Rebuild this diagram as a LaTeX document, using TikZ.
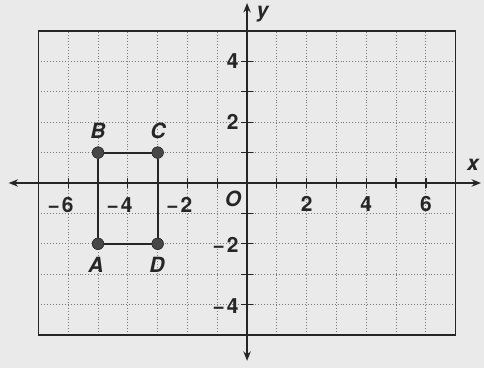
\documentclass[tikz,border=0pt]{standalone}
\usepackage{fontspec}
\setmainfont{TeX Gyre Heros}
\usetikzlibrary{arrows.meta}
\definecolor{ink}{RGB}{38,38,38}
\definecolor{paper}{RGB}{234,234,234}
\definecolor{gridc}{RGB}{120,120,120}
\tikzset{
  lbl/.style={font=\fontsize{20}{23}\selectfont\bfseries, text=ink, inner sep=0pt},
  ilbl/.style={font=\fontsize{20}{23}\selectfont\bfseries\itshape, text=ink, inner sep=0pt},
  axis/.style={ink, line width=1.6pt, {Stealth[length=9pt,width=7pt]}-{Stealth[length=9pt,width=7pt]}},
  pt/.style={circle, fill=ink!85, draw=ink, inner sep=0pt, minimum size=11pt},
  edge/.style={ink, line width=1.8pt}
}
\begin{document}
\begin{tikzpicture}[x=1cm,y=1.02cm]
\useasboundingbox[fill=paper] (-8.29,-6.09) rectangle (7.95,6.02);
% grid
\foreach \i in {-6,...,6} {
  \draw[gridc, line width=0.8pt, dotted] (\i,-5) -- (\i,5);
}
\foreach \j in {-4,...,4} {
  \draw[gridc, line width=0.8pt, dotted] (-7,\j) -- (7,\j);
}
\draw[ink, line width=1.4pt] (-7,-5) rectangle (7,5);
% axes
\coordinate (xl) at (-8.0,0);
\coordinate (xr) at (7.85,0);
\coordinate (yb) at (0,-5.85);
\coordinate (yt) at (0,5.92);
\draw[axis] (xl) -- (xr);
\draw[axis] (yb) -- (yt);
\foreach \i in {-7,...,-1,1,2,...,7} {
  \draw[ink, line width=1.2pt] (\i,-0.15) -- (\i,0.15);
}
\foreach \j in {-5,...,-1,1,2,...,5} {
  \draw[ink, line width=1.2pt] (-0.2,\j) -- (0.2,\j);
}
% tick labels
\node[lbl] (lm6) at (-6.26,-0.72) {−\kern2pt 6};
\node[lbl] (lm4) at (-4.28,-0.72) {−\kern2pt 4};
\node[lbl] (lm2) at (-2.27,-0.72) {−\kern2pt 2};
\node[lbl] (l2) at (2,-0.69) {2};
\node[lbl] (l4) at (4,-0.69) {4};
\node[lbl] (l6) at (6,-0.69) {6};
\node[lbl, anchor=east] (ly4) at (-0.28,4) {4};
\node[lbl, anchor=east] (ly2) at (-0.28,2) {2};
\node[lbl, anchor=east] (lym2) at (-0.28,-2.05) {−\kern2pt 2};
\node[lbl, anchor=east] (lym4) at (-0.28,-4.05) {−\kern2pt 4};
\node[ilbl] (O) at (-0.47,-0.53) {O};
\node[ilbl] (xlab) at (7.58,0.6) {x};
\node[ilbl] (ylab) at (0.52,5.56) {y};
% rectangle
\node[pt] (A) at (-5,-2) {};
\node[pt] (B) at (-5,1) {};
\node[pt] (C) at (-3,1) {};
\node[pt] (D) at (-3,-2) {};
\draw[edge] (A) -- (B) -- (C) -- (D) -- (A);
\node[pt] at (A) {};
\node[pt] at (B) {};
\node[pt] at (C) {};
\node[pt] at (D) {};
\node[ilbl] (Al) at (-5.07,-2.68) {A};
\node[ilbl] (Bl) at (-5.0,1.72) {B};
\node[ilbl] (Cl) at (-2.99,1.72) {C};
\node[ilbl] (Dl) at (-3.02,-2.7) {D};
\end{tikzpicture}
\end{document}
